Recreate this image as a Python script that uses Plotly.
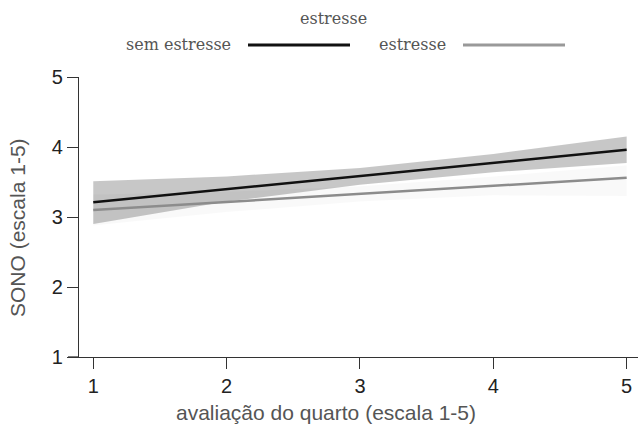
import plotly.graph_objects as go

# data
x_vals = [1, 2, 3, 4, 5]
sem_fit = [3.21, 3.40, 3.58, 3.77, 3.96]
sem_upper = [3.51, 3.58, 3.70, 3.90, 4.15]
sem_lower = [2.90, 3.22, 3.46, 3.64, 3.77]
com_fit = [3.10, 3.215, 3.33, 3.445, 3.56]
com_upper = [3.32, 3.36, 3.44, 3.58, 3.74]
com_lower = [2.88, 3.07, 3.22, 3.31, 3.30]
x_ticks = [1, 2, 3, 4, 5]
y_ticks = [1, 2, 3, 4, 5]

fig = go.Figure()

# faint band for estresse
fig.add_trace(go.Scatter(x=x_vals, y=com_upper, mode="lines", line=dict(width=0),
                         showlegend=False, hoverinfo="skip"))
fig.add_trace(go.Scatter(x=x_vals, y=com_lower, mode="lines", line=dict(width=0),
                         fill="tonexty", fillcolor="rgba(0,0,0,0.025)",
                         showlegend=False, hoverinfo="skip"))
# band for sem estresse
fig.add_trace(go.Scatter(x=x_vals, y=sem_upper, mode="lines", line=dict(width=0),
                         showlegend=False, hoverinfo="skip"))
fig.add_trace(go.Scatter(x=x_vals, y=sem_lower, mode="lines", line=dict(width=0),
                         fill="tonexty", fillcolor="rgba(0,0,0,0.22)",
                         showlegend=False, hoverinfo="skip"))
# fitted lines
fig.add_trace(go.Scatter(x=x_vals, y=com_fit, mode="lines",
                         line=dict(color="#8c8c8c", width=2.5), name="estresse",
                         showlegend=False))
fig.add_trace(go.Scatter(x=x_vals, y=sem_fit, mode="lines",
                         line=dict(color="#111111", width=2.5), name="sem estresse",
                         showlegend=False))

serif = "DejaVu Serif, Liberation Serif, serif"
sans = "Liberation Sans, Arial, sans-serif"

L, T, W, H = 79, 77, 559, 280


def px(xp):
    return (xp - L) / W


def py(yp):
    return 1 - (yp - T) / H


# manual legend (text left of line sample)
fig.add_annotation(xref="paper", yref="paper", x=px(333), y=py(18),
                   text="estresse", showarrow=False, xanchor="center", yanchor="middle",
                   font=dict(family=serif, size=16, color="#555555"))
fig.add_annotation(xref="paper", yref="paper", x=px(233), y=py(45),
                   text="sem estresse", showarrow=False, xanchor="right", yanchor="middle",
                   font=dict(family=serif, size=16, color="#555555"))
fig.add_annotation(xref="paper", yref="paper", x=px(448), y=py(45),
                   text="estresse", showarrow=False, xanchor="right", yanchor="middle",
                   font=dict(family=serif, size=16, color="#555555"))
fig.add_shape(type="line", xref="paper", yref="paper",
              x0=px(248), x1=px(350), y0=py(45), y1=py(45),
              line=dict(color="#111111", width=3))
fig.add_shape(type="line", xref="paper", yref="paper",
              x0=px(463), x1=px(565), y0=py(45), y1=py(45),
              line=dict(color="#999999", width=3))
# extend x axis line slightly left of y-axis
fig.add_shape(type="line", xref="paper", yref="paper",
              x0=px(68), x1=0, y0=0, y1=0,
              line=dict(color="#333333", width=1.3))
# axis titles
fig.add_annotation(xref="paper", yref="paper", x=px(326), y=py(412),
                   text="avaliação do quarto (escala 1-5)", showarrow=False,
                   xanchor="center", yanchor="middle",
                   font=dict(family=sans, size=21, color="#555555"))
fig.add_annotation(xref="paper", yref="paper", x=px(17), y=py(228),
                   text="SONO (escala 1-5)", showarrow=False, textangle=-90,
                   xanchor="center", yanchor="middle",
                   font=dict(family=sans, size=21, color="#555555"))

fig.update_layout(
    width=638, height=435,
    margin=dict(l=L, r=638 - L - W, t=T, b=435 - T - H, autoexpand=False),
    plot_bgcolor="white", paper_bgcolor="white",
    showlegend=False,
    xaxis=dict(range=[0.893, 5.085], tickvals=x_ticks, ticktext=[str(v) for v in x_ticks],
               automargin=False,
               showgrid=False, zeroline=False, showline=True, linecolor="#333333", linewidth=1.3,
               ticks="outside", ticklen=11, tickwidth=1.3, tickcolor="#333333",
               tickfont=dict(family=sans, size=20, color="#222222")),
    yaxis=dict(range=[1, 5], tickvals=y_ticks, ticktext=[str(v) for v in y_ticks],
               automargin=False,
               showgrid=False, zeroline=False, showline=True, linecolor="#333333", linewidth=1.3,
               ticks="outside", ticklen=11, tickwidth=1.3, tickcolor="#333333",
               tickfont=dict(family=sans, size=20, color="#222222")),
)

fig.write_html("out.html", config={"displayModeBar": False},
               post_script="document.body.style.margin='0';document.body.style.overflow='hidden';")
